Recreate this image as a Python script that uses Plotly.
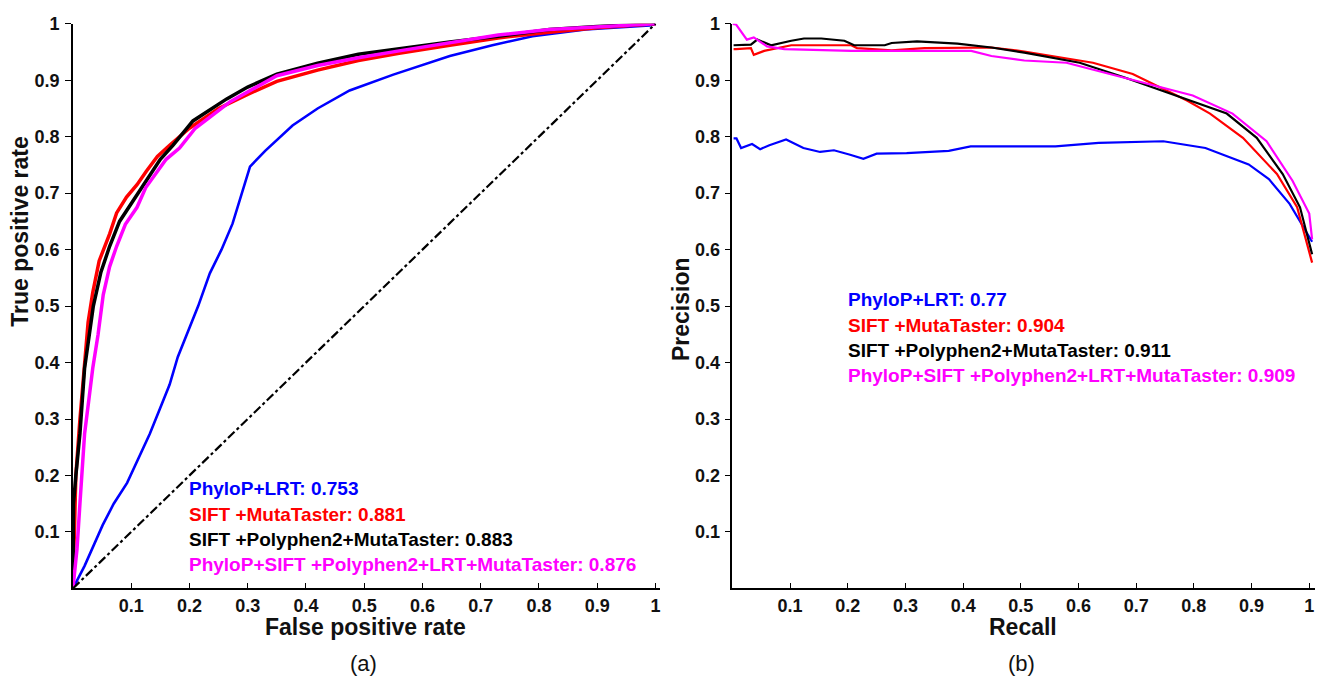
import plotly.graph_objects as go

W, H = 1321, 684

# ---------------- ROC data (panel a) ----------------
roc_blue_fpr = [0, 0.02, 0.051, 0.07, 0.093, 0.11, 0.132, 0.15, 0.166, 0.18, 0.195, 0.215, 0.235, 0.255, 0.274, 0.29, 0.304, 0.33, 0.377, 0.42, 0.475, 0.55, 0.647, 0.72, 0.789, 0.88, 0.99, 1.0]
roc_blue_tpr = [0, 0.04, 0.112, 0.15, 0.187, 0.225, 0.274, 0.32, 0.361, 0.41, 0.449, 0.50, 0.558, 0.60, 0.646, 0.70, 0.747, 0.775, 0.82, 0.85, 0.882, 0.91, 0.943, 0.962, 0.978, 0.99, 0.997, 1.0]

roc_red_fpr = [0, 0.002, 0.005, 0.012, 0.018, 0.026, 0.034, 0.045, 0.063, 0.075, 0.092, 0.11, 0.126, 0.145, 0.166, 0.2, 0.25, 0.3, 0.35, 0.42, 0.49, 0.56, 0.647, 0.73, 0.818, 0.9, 1.0]
roc_red_tpr = [0, 0.1, 0.2, 0.3, 0.38, 0.471, 0.524, 0.58, 0.628, 0.665, 0.693, 0.715, 0.739, 0.765, 0.785, 0.815, 0.85, 0.875, 0.898, 0.918, 0.935, 0.948, 0.962, 0.975, 0.985, 0.993, 1.0]

roc_black_fpr = [0, 0.001, 0.005, 0.012, 0.02, 0.024, 0.035, 0.048, 0.063, 0.08, 0.103, 0.132, 0.15, 0.172, 0.206, 0.264, 0.3, 0.35, 0.42, 0.49, 0.56, 0.647, 0.73, 0.818, 0.9, 1.0]
roc_black_tpr = [0, 0.15, 0.2, 0.274, 0.39, 0.42, 0.5, 0.56, 0.606, 0.65, 0.687, 0.733, 0.76, 0.785, 0.828, 0.867, 0.888, 0.911, 0.93, 0.946, 0.956, 0.968, 0.978, 0.99, 0.995, 1.0]

roc_mag_fpr = [0, 0.003, 0.007, 0.012, 0.02, 0.028, 0.034, 0.043, 0.052, 0.063, 0.075, 0.09, 0.11, 0.125, 0.138, 0.16, 0.183, 0.21, 0.27, 0.35, 0.42, 0.49, 0.56, 0.647, 0.73, 0.818, 0.9, 1.0]
roc_mag_tpr = [0, 0.03, 0.07, 0.15, 0.274, 0.34, 0.39, 0.449, 0.52, 0.57, 0.606, 0.645, 0.675, 0.71, 0.728, 0.76, 0.78, 0.815, 0.862, 0.908, 0.926, 0.94, 0.952, 0.967, 0.98, 0.99, 0.995, 1.0]

diag = [0, 1]

# ---------------- PR data (panel b) ----------------
pr_blue_rec = [0.002, 0.007, 0.015, 0.034, 0.048, 0.064, 0.093, 0.123, 0.152, 0.176, 0.204, 0.227, 0.25, 0.302, 0.375, 0.413, 0.56, 0.635, 0.747, 0.82, 0.895, 0.93, 0.966, 1.005]
pr_blue_prec = [0.797, 0.797, 0.780, 0.787, 0.778, 0.785, 0.795, 0.780, 0.773, 0.776, 0.768, 0.761, 0.770, 0.771, 0.775, 0.783, 0.783, 0.789, 0.792, 0.780, 0.751, 0.725, 0.681, 0.614]

pr_red_rec = [0.002, 0.006, 0.032, 0.037, 0.055, 0.102, 0.206, 0.216, 0.276, 0.333, 0.449, 0.506, 0.625, 0.694, 0.788, 0.828, 0.885, 0.944, 0.979, 1.005]
pr_red_prec = [0.955, 0.955, 0.957, 0.945, 0.952, 0.962, 0.962, 0.957, 0.953, 0.957, 0.958, 0.951, 0.931, 0.911, 0.864, 0.841, 0.798, 0.734, 0.675, 0.577]

pr_black_rec = [0.002, 0.006, 0.032, 0.043, 0.067, 0.102, 0.124, 0.154, 0.194, 0.211, 0.264, 0.276, 0.32, 0.39, 0.449, 0.506, 0.602, 0.68, 0.753, 0.857, 0.909, 0.954, 0.984, 1.005]
pr_black_prec = [0.962, 0.962, 0.963, 0.972, 0.962, 0.970, 0.974, 0.974, 0.970, 0.962, 0.962, 0.966, 0.969, 0.965, 0.958, 0.949, 0.931, 0.905, 0.879, 0.841, 0.798, 0.734, 0.675, 0.592]

pr_mag_rec = [0.0, 0.006, 0.025, 0.037, 0.06, 0.09, 0.206, 0.414, 0.449, 0.506, 0.579, 0.728, 0.798, 0.867, 0.926, 0.971, 1.0, 1.005]
pr_mag_prec = [1.0, 0.999, 0.972, 0.976, 0.960, 0.955, 0.952, 0.952, 0.943, 0.935, 0.931, 0.891, 0.873, 0.841, 0.792, 0.722, 0.664, 0.618]

# ---------------- labels ----------------
roc_labels = ["PhyloP+LRT: 0.753", "SIFT +MutaTaster: 0.881",
              "SIFT +Polyphen2+MutaTaster: 0.883",
              "PhyloP+SIFT +Polyphen2+LRT+MutaTaster: 0.876"]
pr_labels = ["PhyloP+LRT: 0.77", "SIFT +MutaTaster: 0.904",
             "SIFT +Polyphen2+MutaTaster: 0.911",
             "PhyloP+SIFT +Polyphen2+LRT+MutaTaster: 0.909"]
colors = ["#0000FF", "#FF0000", "#000000", "#FF00FF"]
tick_vals = [0.1, 0.2, 0.3, 0.4, 0.5, 0.6, 0.7, 0.8, 0.9, 1.0]
tick_text = ["0.1", "0.2", "0.3", "0.4", "0.5", "0.6", "0.7", "0.8", "0.9", "1"]

FONT = "Liberation Sans, Arial, sans-serif"

def px(x):
    return x / W

def py(y):
    return 1 - y / H

fig = go.Figure()

# panel a
roc_sets = [(roc_blue_fpr, roc_blue_tpr, 2.6), (roc_red_fpr, roc_red_tpr, 3.5),
            (roc_black_fpr, roc_black_tpr, 3.5), (roc_mag_fpr, roc_mag_tpr, 3.5)]
for (xs, ys, w), c in zip(roc_sets, colors):
    fig.add_trace(go.Scatter(x=xs, y=ys, mode="lines", line=dict(color=c, width=w),
                             xaxis="x", yaxis="y", showlegend=False, hoverinfo="skip"))
fig.add_trace(go.Scatter(x=diag, y=diag, mode="lines",
                         line=dict(color="black", width=2.2, dash="dashdot"),
                         xaxis="x", yaxis="y", showlegend=False, hoverinfo="skip"))

# panel b
pr_sets = [(pr_blue_rec, pr_blue_prec), (pr_red_rec, pr_red_prec),
           (pr_black_rec, pr_black_prec), (pr_mag_rec, pr_mag_prec)]
for (xs, ys), c in zip(pr_sets, colors):
    fig.add_trace(go.Scatter(x=xs, y=ys, mode="lines", line=dict(color=c, width=2.2),
                             xaxis="x2", yaxis="y2", showlegend=False, hoverinfo="skip"))

axis_common = dict(showline=True, linecolor="black", linewidth=1.5, showgrid=False,
                   zeroline=False, tickvals=tick_vals, ticktext=tick_text,
                   tickfont=dict(family=FONT, size=18, color="#111111", weight="bold"),
                   tickcolor="black", tickwidth=1.3)

fig.update_layout(
    width=W, height=H,
    margin=dict(l=0, r=0, t=0, b=0),
    paper_bgcolor="white", plot_bgcolor="white",
    xaxis=dict(domain=[px(73), px(660)], range=[0, 1.007], anchor="y",
               ticks="inside", ticklen=6, **axis_common),
    yaxis=dict(domain=[py(587), py(14)], range=[0, 1.0], anchor="x",
               ticks="outside", ticklen=6, ticklabelstandoff=2, **axis_common),
    xaxis2=dict(domain=[px(733), px(1316)], range=[0, 1.01], anchor="y2",
                ticks="inside", ticklen=6, **axis_common),
    yaxis2=dict(domain=[py(587), py(14)], range=[0, 1.0], anchor="x2",
                ticks="outside", ticklen=6, ticklabelstandoff=1, **axis_common),
)

ann = []
for i, (t, c) in enumerate(zip(roc_labels, colors)):
    ann.append(dict(x=px(187), y=py(486 + 25.7 * i), xref="paper", yref="paper",
                    text="<b>" + t + "</b>", showarrow=False, xanchor="left", yanchor="middle",
                    font=dict(family=FONT, size=19, color=c)))
for i, (t, c) in enumerate(zip(pr_labels, colors)):
    ann.append(dict(x=px(847), y=py(294 + 25.7 * i), xref="paper", yref="paper",
                    text="<b>" + t + "</b>", showarrow=False, xanchor="left", yanchor="middle",
                    font=dict(family=FONT, size=19, color=c)))
title_font = dict(family=FONT, size=23, color="#111111")
ann += [
    dict(x=px(366), y=py(626), xref="paper", yref="paper", text="<b>False positive rate</b>",
         showarrow=False, xanchor="center", yanchor="middle", font=title_font),
    dict(x=px(1024), y=py(626), xref="paper", yref="paper", text="<b>Recall</b>",
         showarrow=False, xanchor="center", yanchor="middle", font=title_font),
    dict(x=px(20), y=py(225), xref="paper", yref="paper", text="<b>True positive rate</b>",
         showarrow=False, xanchor="center", yanchor="middle", textangle=-90, font=title_font),
    dict(x=px(681), y=py(303), xref="paper", yref="paper", text="<b>Precision</b>",
         showarrow=False, xanchor="center", yanchor="middle", textangle=-90, font=title_font),
    dict(x=px(364), y=py(663), xref="paper", yref="paper", text="(a)",
         showarrow=False, xanchor="center", yanchor="middle",
         font=dict(family=FONT, size=22, color="#111111")),
    dict(x=px(1022), y=py(663), xref="paper", yref="paper", text="(b)",
         showarrow=False, xanchor="center", yanchor="middle",
         font=dict(family=FONT, size=22, color="#111111")),
]
fig.update_layout(annotations=ann)

fig.write_html("out.html", config={"displayModeBar": False},
               post_script="document.body.style.margin='0px';document.body.style.overflow='hidden';")
